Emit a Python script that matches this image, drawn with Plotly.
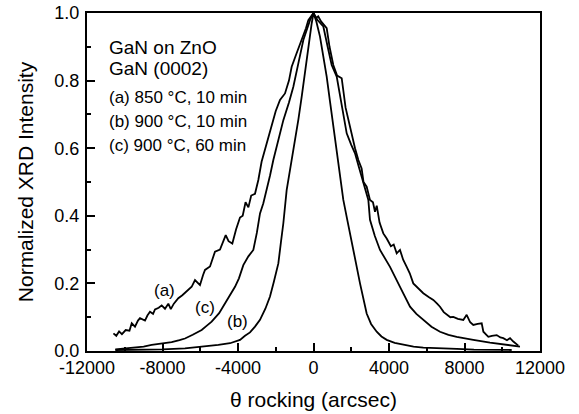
import plotly.graph_objects as go

# Curve (a): 850 °C, 10 min
a_x = [-10600, -10450, -10300, -10150, -9950, -9750, -9630, -9457, -9300, -9192, -8927, -8800, -8662, -8500,
       -8397, -8200, -8044, -7868, -7691, -7560, -7400, -7162, -6950, -6808, -6600, -6455, -6278, -6100, -6013,
       -5850, -5748, -5483, -5350, -5219, -4954, -4800, -4650, -4500, -4300, -4100, -3894, -3750, -3600, -3450,
       -3300, -3100, -2923, -2750, -2570, -2400, -2216, -2000, -1775, -1510, -1300, -1156, -900, -627, -400,
       -274, -97, 0, 120, 250, 400, 550, 699, 850, 1049, 1250, 1494, 1700, 2023, 2200, 2376, 2550, 2650, 2817,
       2993, 3150, 3258, 3350, 3500, 3698, 3878, 4100, 4250, 4408, 4583, 4750, 4938, 5100, 5287, 5550, 5817,
       6100, 6347, 6550, 6702, 6900, 7057, 7250, 7407, 7650, 7937, 8115, 8300, 8466, 8700, 8911, 9000, 9261,
       9450, 9706, 9900, 10056, 10250, 10411, 10587, 10852]
a_y = [0.052, 0.045, 0.058, 0.050, 0.062, 0.060, 0.082, 0.072, 0.090, 0.097, 0.090, 0.105, 0.116, 0.110,
       0.123, 0.128, 0.135, 0.125, 0.140, 0.124, 0.140, 0.156, 0.165, 0.172, 0.185, 0.190, 0.210, 0.200, 0.195,
       0.225, 0.240, 0.250, 0.270, 0.294, 0.300, 0.320, 0.343, 0.325, 0.318, 0.360, 0.395, 0.400, 0.440, 0.425,
       0.460, 0.465, 0.506, 0.560, 0.595, 0.630, 0.664, 0.710, 0.743, 0.762, 0.800, 0.841, 0.880, 0.920, 0.955,
       0.979, 0.994, 1.000, 0.985, 0.990, 0.975, 0.965, 0.955, 0.900, 0.846, 0.815, 0.807, 0.720, 0.639, 0.600,
       0.565, 0.540, 0.500, 0.486, 0.447, 0.440, 0.412, 0.430, 0.380, 0.348, 0.333, 0.310, 0.315, 0.289, 0.299,
       0.270, 0.249, 0.230, 0.200, 0.185, 0.171, 0.160, 0.151, 0.140, 0.131, 0.115, 0.107, 0.100, 0.101, 0.095,
       0.092, 0.107, 0.085, 0.077, 0.080, 0.082, 0.057, 0.042, 0.045, 0.047, 0.040, 0.038, 0.032, 0.038, 0.028,
       0.016]

# Curve (b): 900 °C, 10 min
b_x = [-10500, -9000, -8000, -6808, -6000, -5043, -4424, -3894, -3629, -3364, -3100, -2834, -2550, -2304,
       -2100, -1863, -1730, -1598, -1422, -1200, -980, -800, -627, -480, -362, -220, -97, 0, 150, 344, 520,
       699, 870, 1049, 1270, 1494, 1580, 1800, 2023, 2250, 2464, 2650, 2817, 3050, 3348, 3600, 3878, 4300,
       4758, 5300, 5817, 6700, 7587, 8500, 9500, 10500]
b_y = [0.003, 0.004, 0.005, 0.008, 0.012, 0.018, 0.023, 0.033, 0.045, 0.055, 0.072, 0.092, 0.125, 0.161,
       0.205, 0.259, 0.320, 0.378, 0.476, 0.550, 0.614, 0.685, 0.752, 0.815, 0.871, 0.925, 0.969, 1.000, 0.975,
       0.930, 0.870, 0.812, 0.740, 0.664, 0.570, 0.476, 0.447, 0.385, 0.328, 0.260, 0.200, 0.150, 0.111, 0.080,
       0.057, 0.043, 0.033, 0.024, 0.018, 0.013, 0.010, 0.007, 0.006, 0.004, 0.003, 0.003]

# Curve (c): 900 °C, 60 min
c_x = [-10500, -10000, -9500, -9000, -8575, -8000, -7514, -7100, -6808, -6400, -5925, -5650, -5395, -5000,
       -4689, -4400, -4159, -3950, -3718, -3450, -3188, -3000, -2834, -2658, -2481, -2300, -2128, -1850, -1598,
       -1300, -1068, -803, -538, -185, 0, 200, 521, 750, 963, 1229, 1500, 1759, 2000, 2199, 2400, 2552, 2728,
       2905, 2993, 3250, 3523, 4053, 4583, 5113, 5450, 5817, 6250, 6702, 7150, 7587, 8000, 8466, 9351, 10236,
       10940]
c_y = [0.005, 0.008, 0.010, 0.013, 0.018, 0.022, 0.026, 0.032, 0.037, 0.048, 0.062, 0.075, 0.087, 0.112,
       0.141, 0.165, 0.190, 0.215, 0.254, 0.280, 0.299, 0.350, 0.407, 0.437, 0.476, 0.520, 0.565, 0.625, 0.683,
       0.735, 0.782, 0.851, 0.920, 0.979, 1.000, 0.980, 0.960, 0.900, 0.846, 0.812, 0.720, 0.644, 0.610, 0.585,
       0.545, 0.516, 0.476, 0.447, 0.388, 0.340, 0.299, 0.249, 0.190, 0.131, 0.110, 0.092, 0.072, 0.057, 0.048,
       0.042, 0.037, 0.033, 0.025, 0.018, 0.013]

x_tick_vals = [-12000, -8000, -4000, 0, 4000, 8000, 12000]
x_tick_text = ["-12000", "-8000", "-4000", "0", "4000", "8000", "12000"]
y_tick_vals = [0.0, 0.2, 0.4, 0.6, 0.8, 1.0]
y_tick_text = ["0.0", "0.2", "0.4", "0.6", "0.8", "1.0"]

curve_labels = ["(a)", "(b)", "(c)"]
label_x = [-7868, -4006, -5748]
label_y = [0.180, 0.086, 0.130]

info_lines = ["GaN on ZnO", "GaN (0002)", "(a) 850 °C, 10 min", "(b) 900 °C, 10 min", "(c) 900 °C, 60 min"]
info_y = [0.899, 0.837, 0.749, 0.678, 0.609]
info_size = [19, 19, 17, 17, 17]

FONT = "Liberation Sans, Arial, sans-serif"

fig = go.Figure()
for xs, ys in [(a_x, a_y), (b_x, b_y), (c_x, c_y)]:
    fig.add_trace(go.Scatter(x=xs, y=ys, mode="lines", line=dict(color="black", width=1.8),
                             showlegend=False, hoverinfo="skip"))

for t, x, y in zip(curve_labels, label_x, label_y):
    fig.add_annotation(x=x, y=y, text=t, showarrow=False, xref="x", yref="y",
                       font=dict(family=FONT, size=17, color="black"))

for t, y, s in zip(info_lines, info_y, info_size):
    fig.add_annotation(x=-10960, y=y, text=t, showarrow=False, xref="x", yref="y",
                       xanchor="left", yanchor="middle",
                       font=dict(family=FONT, size=s, color="black"))

fig.update_layout(
    width=579, height=414,
    margin=dict(l=87, r=39, t=13, b=63),
    plot_bgcolor="white", paper_bgcolor="white",
    font=dict(family=FONT, color="black"),
    xaxis=dict(
        range=[-12000, 12000], tickmode="array", tickvals=x_tick_vals, ticktext=x_tick_text,
        ticks="inside", ticklen=8, tickwidth=1.5, tickcolor="black",
        minor=dict(tickmode="linear", tick0=-12000, dtick=2000, ticks="inside", ticklen=4,
                   tickwidth=1.5, tickcolor="black"),
        showline=True, linewidth=2, linecolor="black", mirror=True,
        showgrid=False, zeroline=False, automargin=False,
        tickfont=dict(family=FONT, size=18, color="black"),
        ticklabelstandoff=-1, ticklabeloverflow="allow",
        title=dict(text="θ rocking (arcsec)", font=dict(family=FONT, size=21, color="black"), standoff=16),
    ),
    yaxis=dict(
        range=[0, 1.0], tickmode="array", tickvals=y_tick_vals, ticktext=y_tick_text,
        ticks="inside", ticklen=8, tickwidth=1.5, tickcolor="black",
        minor=dict(tickmode="linear", tick0=0, dtick=0.1, ticks="inside", ticklen=4,
                   tickwidth=1.5, tickcolor="black"),
        showline=True, linewidth=2, linecolor="black", mirror=True,
        showgrid=False, zeroline=False, automargin=False,
        tickfont=dict(family=FONT, size=18, color="black"),
        ticklabelstandoff=2, ticklabeloverflow="allow",
        title=dict(text="Normalized XRD Intensity", font=dict(family=FONT, size=21, color="black"), standoff=15),
    ),
)

# remove the page's default 8px body margin so the figure sits at the window's corner
fig.write_html("out.html", config={"displayModeBar": False},
               post_script="document.body.style.margin='0';")
